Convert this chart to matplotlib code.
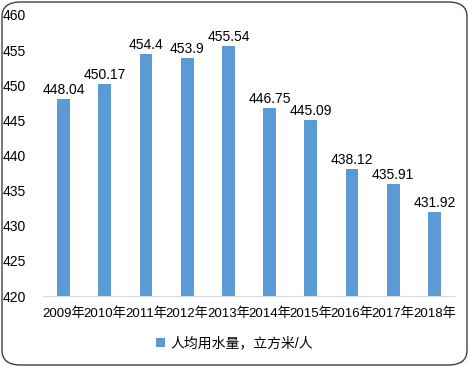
import matplotlib.pyplot as plt
from matplotlib.patches import FancyBboxPatch

plt.rcParams['font.family'] = ['Liberation Sans', 'Noto Sans CJK SC', 'DejaVu Sans']

years = ['2009年', '2010年', '2011年', '2012年', '2013年',
         '2014年', '2015年', '2016年', '2017年', '2018年']
water_per_capita = [448.04, 450.17, 454.4, 453.9, 455.54,
                    446.75, 445.09, 438.12, 435.91, 431.92]
value_labels = ['448.04', '450.17', '454.4', '453.9', '455.54',
                '446.75', '445.09', '438.12', '435.91', '431.92']
series_name = '人均用水量，立方米/人'

fig = plt.figure(figsize=(4.69, 3.67), dpi=100)
ax = fig.add_axes([43 / 469, 1 - 296 / 367, 412 / 469, 281 / 367])

x = range(len(years))
bars = ax.bar(x, water_per_capita, width=0.31, bottom=0,
              color='#5B9BD5', label=series_name, zorder=2)

for xi, v, lab in zip(x, water_per_capita, value_labels):
    ax.text(xi, v + 0.3, lab, ha='center', va='bottom', fontsize=10, color='#000000')

ax.set_ylim(420, 460)
ax.set_xlim(-0.5, len(years) - 0.5)
ax.set_yticks(range(420, 461, 5))
ax.set_xticks(list(x))
ax.set_xticklabels(years, fontsize=9.5)
ax.tick_params(axis='both', length=0, labelsize=10, colors='#000000')
ax.tick_params(axis='x', labelsize=9.5, pad=8)
ax.tick_params(axis='y', pad=12)
for s in ['top', 'right', 'left']:
    ax.spines[s].set_visible(False)
ax.spines['bottom'].set_color('#D9D9D9')

leg = fig.legend(handles=[bars], labels=[series_name], loc='center',
                 bbox_to_anchor=(0.5, 1 - 343 / 367), frameon=False,
                 fontsize=10, handlelength=0.6, handleheight=0.6,
                 handletextpad=0.4)

border = FancyBboxPatch((2 / 469, 2 / 367), 465 / 469, 363 / 367,
                        boxstyle='round,pad=0,rounding_size=0.04',
                        transform=fig.transFigure, fill=False,
                        edgecolor='#404040', linewidth=1.0)
fig.patches.append(border)

fig.savefig('out.png', dpi=100)
